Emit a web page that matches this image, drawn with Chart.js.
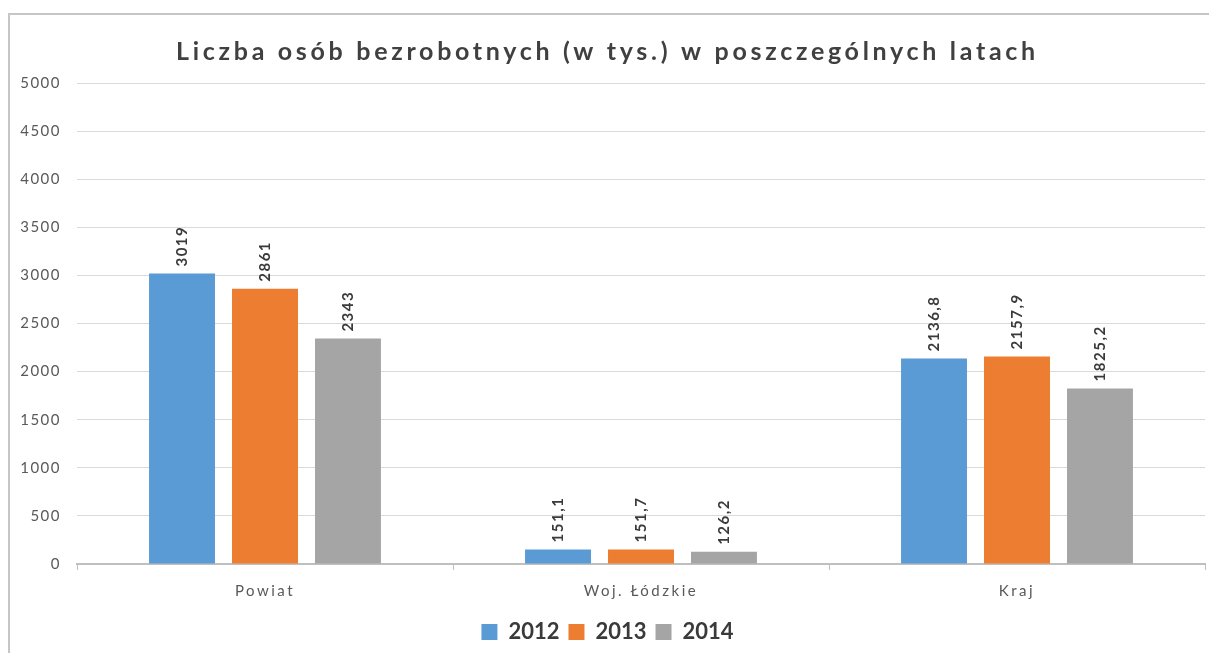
<!DOCTYPE html>
<html>
<head>
<meta charset="utf-8">
<script src="https://cdn.jsdelivr.net/npm/chart.js@4.4.1/dist/chart.umd.min.js"></script>
<style>
  html, body { margin: 0; padding: 0; background: #ffffff; }
  #wrap { position: absolute; left: 0; top: 0; width: 1209px; height: 653px; }
  #frame { position: absolute; left: 8px; top: 13px; width: 1220px; height: 660px;
           border-left: 2px solid #c6c6c6; border-top: 2px solid #c6c6c6; pointer-events: none; }
  canvas { position: absolute; left: 0; top: 0; }
</style>
</head>
<body>
<div id="wrap">
  <canvas id="c" width="1209" height="653"></canvas>
  <div id="frame"></div>
</div>
<script>
const titleText = 'Liczba osób bezrobotnych (w tys.) w poszczególnych latach';
const categories = ['Powiat', 'Woj. Łódzkie', 'Kraj'];
const seriesNames = ['2012', '2013', '2014'];
const values2012 = [3019, 151.1, 2136.8];
const values2013 = [2861, 151.7, 2157.9];
const values2014 = [2343, 126.2, 1825.2];
const yMin = 0;
const yMax = 5000;
const yStep = 500;
const colors = ['#5b9bd5', '#ed7d31', '#a5a5a5'];

function fmt(v) { return String(v).replace('.', ','); }

function wrapSpacing(obj, fnName, spacing) {
  if (!obj || obj['_w_' + fnName]) return;
  const orig = obj[fnName];
  obj[fnName] = function() {
    const ctx = this.ctx; ctx.save(); ctx.letterSpacing = spacing;
    orig.apply(this, arguments); ctx.restore();
  };
  obj['_w_' + fnName] = true;
}

const spacingPlugin = {
  id: 'spacing',
  afterLayout(chart) {
    wrapSpacing(chart.scales.x, 'drawLabels', '2.5px');
    wrapSpacing(chart.scales.y, 'drawLabels', '1.5px');
    wrapSpacing(chart.titleBlock, 'draw', '3.7px');
  }
};

const valueLabels = {
  id: 'valueLabels',
  afterDatasetsDraw(chart) {
    const ctx = chart.ctx;
    ctx.save();
    ctx.font = 'bold 15px Lato';
    ctx.fillStyle = '#3a3a3a';
    ctx.textAlign = 'left';
    ctx.textBaseline = 'middle';
    chart.data.datasets.forEach((ds, i) => {
      const meta = chart.getDatasetMeta(i);
      meta.data.forEach((bar, j) => {
        ctx.save();
        ctx.translate(bar.x, bar.y - 7);
        ctx.rotate(-Math.PI / 2);
        ctx.letterSpacing = '1.5px';
        ctx.fillText(fmt(ds.data[j]), 0, 0);
        ctx.restore();
      });
    });
    ctx.restore();
  }
};

new Chart(document.getElementById('c'), {
  type: 'bar',
  data: {
    labels: categories,
    datasets: [
      { label: seriesNames[0], data: values2012, backgroundColor: colors[0] },
      { label: seriesNames[1], data: values2013, backgroundColor: colors[1] },
      { label: seriesNames[2], data: values2014, backgroundColor: colors[2] }
    ]
  },
  options: {
    responsive: false,
    animation: false,
    events: [],
    layout: { padding: { left: 10, right: 4, top: 0, bottom: 0 } },
    datasets: { bar: { categoryPercentage: 0.662, barPercentage: 0.795 } },
    plugins: {
      title: {
        display: true,
        text: titleText,
        color: '#404040',
        font: { family: 'Lato', size: 25, weight: 'bold' },
        padding: { top: 37, bottom: 16 }
      },
      legend: {
        position: 'bottom',
        labels: {
          color: '#3a3a3a',
          font: { family: 'Lato', size: 22, weight: 'bold' },
          boxWidth: 16, boxHeight: 16, padding: 9
        }
      },
      tooltip: { enabled: false }
    },
    scales: {
      x: {
        offset: true,
        grid: { offset: true, drawOnChartArea: false, drawTicks: true, tickLength: 6, color: '#bfbfbf' },
        border: { display: true, color: '#bfbfbf', width: 2 },
        ticks: { color: '#595959', font: { family: 'Lato', size: 15 }, padding: 12 }
      },
      y: {
        min: yMin, max: yMax,
        afterFit(scale) { scale.width = 67; },
        grid: { color: '#d9d9d9', drawTicks: false },
        border: { display: false },
        ticks: { stepSize: yStep, color: '#595959', font: { family: 'Lato', size: 15 }, padding: 16,
                 callback: (v) => String(v) }
      }
    }
  },
  plugins: [spacingPlugin, valueLabels]
});
</script>
</body>
</html>
